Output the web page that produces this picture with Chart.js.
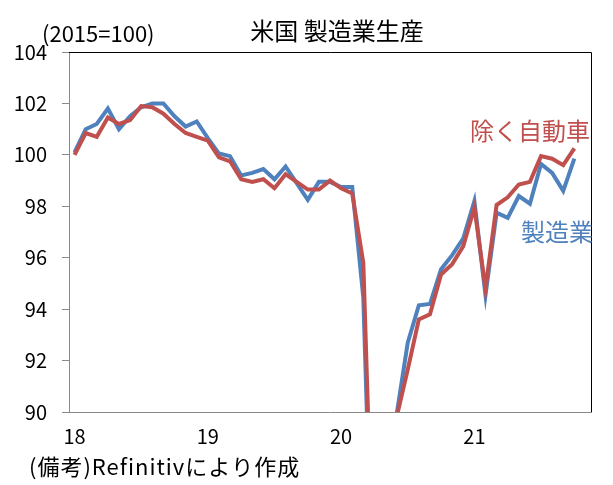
<!DOCTYPE html>
<html>
<head>
<meta charset="utf-8">
<script src="https://cdn.jsdelivr.net/npm/chart.js@4"></script>
<style>
  body{margin:0;background:#fff;}
  canvas{display:block;}
</style>
</head>
<body>
<canvas id="chart" width="613" height="485"></canvas>
<script>
// data: monthly, Jan 2018 - Nov 2021 (last month empty)
const yearTicks = ['18', '19', '20', '21'];
const months = [];
for (let y = 0; y < yearTicks.length; y++) {
  for (let m = 1; m <= 12; m++) months.push(yearTicks[y] + '/' + m);
}
const categories = months.slice(0, 47);

const manufacturing = [
  100.1, 101.0, 101.2, 101.8, 101.0, 101.5, 101.85, 102.0, 102.0, 101.5, 101.1, 101.3,
  100.65, 100.05, 99.95, 99.2, 99.3, 99.45, 99.05, 99.55, 98.9, 98.25, 98.95, 98.95,
  98.75, 98.75, 94.45, 80.5, 84.0, 89.9, 92.7, 94.15, 94.2, 95.55, 96.1, 96.75,
  98.2, 94.55, 97.75, 97.55, 98.4, 98.1, 99.65, 99.3, 98.6, 99.85, null
];
const exAuto = [
  100.0, 100.85, 100.7, 101.45, 101.2, 101.35, 101.9, 101.85, 101.6, 101.2, 100.85, 100.7,
  100.55, 99.9, 99.75, 99.05, 98.95, 99.05, 98.7, 99.25, 98.95, 98.65, 98.65, 99.0,
  98.7, 98.5, 95.8, 82.0, 84.8, 89.8, 91.65, 93.6, 93.8, 95.35, 95.75, 96.45,
  97.95, 94.8, 98.05, 98.35, 98.85, 98.95, 99.95, 99.85, 99.6, 100.25, null
];
const yTicks = [90, 92, 94, 96, 98, 100, 102, 104];

const BLUE = '#4F81BD', RED = '#C0504D';
const FONT = '"Noto Sans CJK JP", "Noto Sans", sans-serif';

const textPlugin = {
  id: 'texts',
  afterDraw(chart) {
    const ctx = chart.ctx, a = chart.chartArea;
    ctx.save();
    // black frame top and right
    ctx.strokeStyle = '#000';
    ctx.lineWidth = 1;
    ctx.beginPath();
    ctx.moveTo(a.left, a.top + 0.5);
    ctx.lineTo(a.right + 0.5, a.top + 0.5);
    ctx.lineTo(a.right + 0.5, a.bottom);
    ctx.stroke();

    ctx.textBaseline = 'middle';
    ctx.fillStyle = '#000';
    ctx.font = '24px ' + FONT;
    ctx.textAlign = 'center';
    ctx.fillText('米国 製造業生産', 337, 31);

    ctx.textAlign = 'left';
    ctx.font = '22px ' + FONT;
    ctx.fillText('(2015=100)', 42, 34);
    ctx.letterSpacing = '1px';
    ctx.fillText('(備考)Refinitivにより作成', 29, 467);
    ctx.letterSpacing = '0px';

    ctx.font = '24px ' + FONT;
    ctx.textAlign = 'center';
    ctx.fillStyle = RED;
    ctx.fillText('除く自動車', 530, 131);
    ctx.fillStyle = BLUE;
    ctx.fillText('製造業', 557, 232);
    ctx.restore();
  }
};

new Chart(document.getElementById('chart'), {
  type: 'line',
  data: {
    labels: categories,
    datasets: [
      {label: '製造業', data: manufacturing, borderColor: BLUE, borderWidth: 4, pointRadius: 0, order: 2},
      {label: '除く自動車', data: exAuto, borderColor: RED, borderWidth: 4, pointRadius: 0, order: 1}
    ]
  },
  options: {
    responsive: false,
    animation: false,
    devicePixelRatio: 1,
    layout: {padding: {top: 52, right: 22, left: 0, bottom: 0}},
    plugins: {legend: {display: false}, tooltip: {enabled: false}},
    scales: {
      x: {
        offset: true,
        grid: {display: false, drawTicks: false},
        border: {display: true, color: '#898989', width: 1},
        ticks: {
          autoSkip: false, maxRotation: 0, padding: 12, color: '#000',
          font: {family: FONT, size: 20},
          callback: (v, i) => (i % 12 === 0 ? yearTicks[i / 12] : '')
        },
        afterFit: s => { s.height = 73; }
      },
      y: {
        min: 90, max: 104,
        afterBuildTicks: s => { s.ticks = yTicks.map(v => ({value: v})); },
        grid: {drawOnChartArea: false, drawTicks: true, tickLength: 7, color: '#898989'},
        border: {display: true, color: '#898989', width: 1},
        ticks: {padding: 15, color: '#000', font: {family: FONT, size: 20}},
        afterFit: s => { s.width = 69; }
      }
    }
  },
  plugins: [textPlugin]
});
</script>
</body>
</html>
